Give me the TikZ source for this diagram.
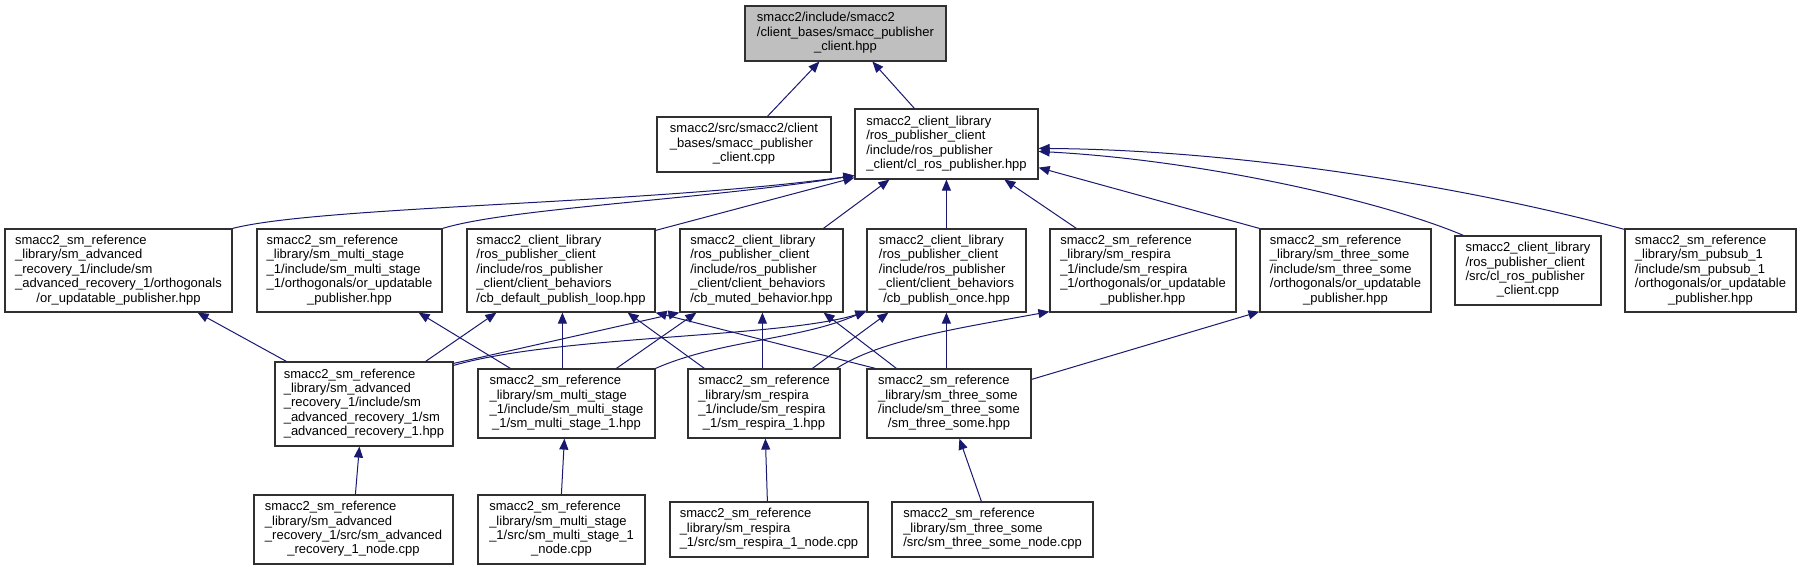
\documentclass[tikz,border=0pt]{standalone}
\usepackage{fontspec}
\setmainfont{Liberation Sans}
\usetikzlibrary{arrows.meta}
\definecolor{dxblue}{HTML}{191970}
\definecolor{dxgray}{HTML}{BFBFBF}
\definecolor{dxborder}{HTML}{303030}
\newcommand{\dxfont}{\fontsize{13}{14.4}\selectfont}
\newcommand{\dxlab}[2]{\begin{tabular}{@{}l@{}}#1\\\multicolumn{1}{@{}c@{}}{#2}\end{tabular}}
\newcommand{\dxbox}[6][]{\node[dxnode,#1,minimum width={(#4-#2)*1pt},minimum height={(#5-#3)*1pt}] (#6) at ({(#2+#4)/2},{(#3+#5)/2})}
\tikzset{
  dxnode/.style={draw=dxborder, line width=1.2pt, inner sep=0pt, font=\dxfont, anchor=center, fill=white},
  dxedge/.style={draw=dxblue, line width=1pt, -{Triangle[length=11pt,width=9pt]}},
}
\begin{document}
\begin{tikzpicture}[x=1pt,y=-1pt]
\fill[white] (0,0) rectangle (1801,571);
\useasboundingbox (0,0) rectangle (1801,571);

% ---------- nodes ----------
\dxbox[fill=dxgray]{745}{6}{946}{61}{root} {\dxlab{smacc2/include/smacc2\\/client\_bases/smacc\_publisher}{\_client.hpp}};
\dxbox{657}{117}{831}{172}{cpp} {\dxlab{smacc2/src/smacc2/client\\\_bases/smacc\_publisher}{\_client.cpp}};
\dxbox{855}{109}{1038}{179}{clros} {\dxlab{smacc2\_client\_library\\/ros\_publisher\_client\\/include/ros\_publisher}{\_client/cl\_ros\_publisher.hpp}};

\dxbox{5}{229}{232}{312}{ARor} {\dxlab{smacc2\_sm\_reference\\\_library/sm\_advanced\\\_recovery\_1/include/sm\\\_advanced\_recovery\_1/orthogonals}{/or\_updatable\_publisher.hpp}};
\dxbox{257}{229}{442}{312}{MSor} {\dxlab{smacc2\_sm\_reference\\\_library/sm\_multi\_stage\\\_1/include/sm\_multi\_stage\\\_1/orthogonals/or\_updatable}{\_publisher.hpp}};
\dxbox{467}{229}{655}{312}{CBloop} {\dxlab{smacc2\_client\_library\\/ros\_publisher\_client\\/include/ros\_publisher\\\_client/client\_behaviors}{/cb\_default\_publish\_loop.hpp}};
\dxbox{680}{229}{843}{312}{CBmuted} {\dxlab{smacc2\_client\_library\\/ros\_publisher\_client\\/include/ros\_publisher\\\_client/client\_behaviors}{/cb\_muted\_behavior.hpp}};
\dxbox{867}{229}{1026}{312}{CBonce} {\dxlab{smacc2\_client\_library\\/ros\_publisher\_client\\/include/ros\_publisher\\\_client/client\_behaviors}{/cb\_publish\_once.hpp}};
\dxbox{1050}{229}{1236}{312}{RSor} {\dxlab{smacc2\_sm\_reference\\\_library/sm\_respira\\\_1/include/sm\_respira\\\_1/orthogonals/or\_updatable}{\_publisher.hpp}};
\dxbox{1260}{229}{1431}{312}{TSor} {\dxlab{smacc2\_sm\_reference\\\_library/sm\_three\_some\\/include/sm\_three\_some\\/orthogonals/or\_updatable}{\_publisher.hpp}};
\dxbox{1455}{236}{1601}{305}{clcpp} {\dxlab{smacc2\_client\_library\\/ros\_publisher\_client\\/src/cl\_ros\_publisher}{\_client.cpp}};
\dxbox{1625}{229}{1796}{312}{PSor} {\dxlab{smacc2\_sm\_reference\\\_library/sm\_pubsub\_1\\/include/sm\_pubsub\_1\\/orthogonals/or\_updatable}{\_publisher.hpp}};

\dxbox{275}{362}{453}{446}{ARsm} {\dxlab{smacc2\_sm\_reference\\\_library/sm\_advanced\\\_recovery\_1/include/sm\\\_advanced\_recovery\_1/sm}{\_advanced\_recovery\_1.hpp}};
\dxbox{478}{369}{655}{438}{MSsm} {\dxlab{smacc2\_sm\_reference\\\_library/sm\_multi\_stage\\\_1/include/sm\_multi\_stage}{\_1/sm\_multi\_stage\_1.hpp}};
\dxbox{688}{369}{840}{438}{RSsm} {\dxlab{smacc2\_sm\_reference\\\_library/sm\_respira\\\_1/include/sm\_respira}{\_1/sm\_respira\_1.hpp}};
\dxbox{867}{369}{1031}{438}{TSsm} {\dxlab{smacc2\_sm\_reference\\\_library/sm\_three\_some\\/include/sm\_three\_some}{/sm\_three\_some.hpp}};

\dxbox{254}{495}{453}{564}{ARnode} {\dxlab{smacc2\_sm\_reference\\\_library/sm\_advanced\\\_recovery\_1/src/sm\_advanced}{\_recovery\_1\_node.cpp}};
\dxbox{478}{495}{645}{564}{MSnode} {\dxlab{smacc2\_sm\_reference\\\_library/sm\_multi\_stage\\\_1/src/sm\_multi\_stage\_1}{\_node.cpp}};
\dxbox{670}{502}{868}{557}{RSnode} {\dxlab{smacc2\_sm\_reference\\\_library/sm\_respira}{\_1/src/sm\_respira\_1\_node.cpp}};
\dxbox{892}{502}{1093}{557}{TSnode} {\dxlab{smacc2\_sm\_reference\\\_library/sm\_three\_some}{/src/sm\_three\_some\_node.cpp}};

% ---------- edges ----------
\draw[dxedge] ([xshift=111pt]cpp.north west) -- ([xshift=75pt]root.south west);
\draw[dxedge] ([xshift=60pt]clros.north west) -- ([xshift=128pt]root.south west);

\draw[dxedge] (ARor.north east) .. controls (320,206) and (650,204) .. ([yshift=4pt]clros.south west);
\draw[dxedge] (MSor.north east) .. controls (510,208) and (700,200) .. ([yshift=4pt]clros.south west);
\draw[dxedge] ([yshift=-2pt]CBloop.north east) -- ([yshift=2pt]clros.south west);
\draw[dxedge] ([xshift=144pt]CBmuted.north west) -- ([xshift=35pt]clros.south west);
\draw[dxedge] ([xshift=80pt]CBonce.north west) -- ([xshift=92pt]clros.south west);
\draw[dxedge] ([xshift=27pt]RSor.north west) -- ([xshift=150pt]clros.south west);
\draw[dxedge] (TSor.north west) -- ([yshift=12pt]clros.south east);
\draw[dxedge] ([xshift=9pt]clcpp.north west) .. controls (1380,200) and (1200,160) .. ([yshift=-43pt]clros.north east);
\draw[dxedge] ([yshift=-1pt]PSor.north west) .. controls (1480,190) and (1250,150) .. ([yshift=-40pt]clros.north east);

\draw[dxedge] ([xshift=12pt]ARsm.north west) -- ([xshift=-35pt]ARor.south east);
\draw[dxedge] ([xshift=-28pt]ARsm.north east) -- ([xshift=30pt]CBloop.south west);
\draw[dxedge] ([yshift=-2pt]ARsm.north east) -- (CBmuted.south west);
\draw[dxedge] ([yshift=-4pt]ARsm.north east) .. controls (560,335) and (780,338) .. ([yshift=1pt]CBonce.south west);

\draw[dxedge] ([xshift=33pt]MSsm.north west) -- ([xshift=-24pt]MSor.south east);
\draw[dxedge] ([xshift=85pt]MSsm.north west) -- ([xshift=96pt]CBloop.south west);
\draw[dxedge] ([xshift=139pt]MSsm.north west) -- ([xshift=17pt]CBmuted.south west);
\draw[dxedge] (MSsm.north east) .. controls (720,340) and (800,340) .. ([yshift=2pt]CBonce.south west);

\draw[dxedge] ([xshift=17pt]RSsm.north west) -- ([xshift=-28pt]CBloop.south east);
\draw[dxedge] ([xshift=75pt]RSsm.north west) -- ([xshift=83pt]CBmuted.south west);
\draw[dxedge] ([xshift=125pt]RSsm.north west) -- ([xshift=22pt]CBonce.south west);
\draw[dxedge] ([xshift=-4pt]RSsm.north east) .. controls (880,340) and (960,328) .. ([yshift=1pt]RSor.south west);

\draw[dxedge] ([xshift=9pt]TSsm.north west) -- (CBloop.south east);
\draw[dxedge] ([xshift=30pt]TSsm.north west) -- ([xshift=-20pt]CBmuted.south east);
\draw[dxedge] ([xshift=80pt]TSsm.north west) -- ([xshift=80pt]CBonce.south west);
\draw[dxedge] ([yshift=-11pt]TSsm.north east) -- ([yshift=1pt]TSor.south west);

\draw[dxedge] ([xshift=102pt]ARnode.north west) -- ([xshift=85pt]ARsm.south west);
\draw[dxedge] ([xshift=84pt]MSnode.north west) -- ([xshift=87pt]MSsm.south west);
\draw[dxedge] ([xshift=98pt]RSnode.north west) -- ([xshift=78pt]RSsm.south west);
\draw[dxedge] ([xshift=90pt]TSnode.north west) -- ([xshift=93pt]TSsm.south west);
\end{tikzpicture}
\end{document}
